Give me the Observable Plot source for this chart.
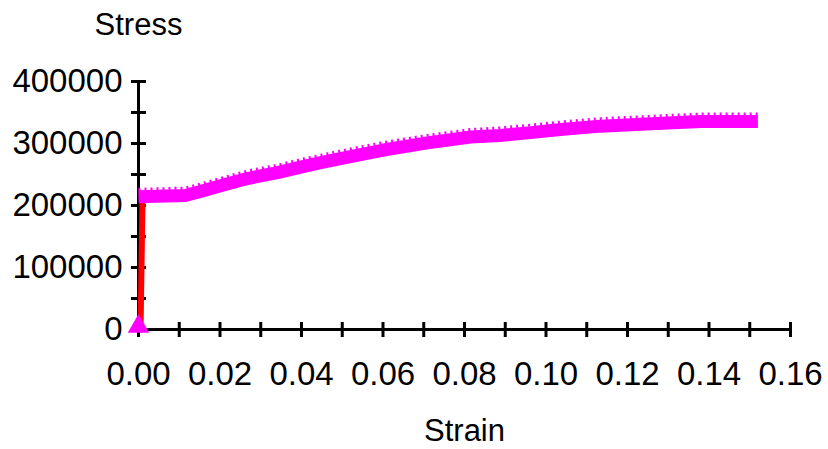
<!DOCTYPE html>
<html>
<head>
<meta charset="utf-8">
<script src="https://cdn.jsdelivr.net/npm/d3@7"></script>
<script src="https://cdn.jsdelivr.net/npm/@observablehq/plot@0.6"></script>
<style>
  html, body { margin: 0; padding: 0; background: #fff; }
</style>
</head>
<body>
<div id="chart"></div>
<script>
// Plastic curve (magenta markers)
const strain = [0, 0.0115, 0.0152, 0.0206, 0.0267, 0.0341, 0.0398, 0.0447, 0.052, 0.0601, 0.0709, 0.0815, 0.0888, 0.0962, 0.1036, 0.1134, 0.1232, 0.138, 0.152];
const stress = [214000, 216000, 222500, 232500, 243500, 253000, 262000, 269000, 279000, 289500, 301000, 310500, 313000, 317500, 322500, 328000, 331000, 335500, 335500];
// Elastic line (red)
const elasticStrain = [0.0005, 0.001];
const elasticStress = [0, 215000];
// Axis ticks and labels
const xTicks = d3.range(0, 17).map(i => i / 100);
const xLabels = [0, 0.02, 0.04, 0.06, 0.08, 0.10, 0.12, 0.14, 0.16];
const yTicks = d3.range(0, 9).map(i => i * 50000);
const yLabels = [0, 100000, 200000, 300000, 400000];
const xTitle = "Strain";
const yTitle = "Stress";

const curve = strain.map((s, i) => ({strain: s, stress: stress[i]}));
const elastic = elasticStrain.map((s, i) => ({strain: s, stress: elasticStress[i]}));

const hTick = { draw(ctx) { ctx.moveTo(-7.5, 0); ctx.lineTo(7.5, 0); } };
const vTick = { draw(ctx) { ctx.moveTo(0, -7.5); ctx.lineTo(0, 7.5); } };

const chart = Plot.plot({
  width: 828,
  height: 449,
  marginLeft: 138,
  marginRight: 38,
  marginTop: 81,
  marginBottom: 120,
  style: { fontFamily: "Liberation Sans, Arial, sans-serif", color: "black", background: "white" },
  x: { domain: [0, 0.16] },
  y: { domain: [0, 400000] },
  marks: [
    Plot.ruleX([0], { y1: 0, y2: 400000, stroke: "black", strokeWidth: 3 }),
    Plot.ruleY([0], { x1: 0, x2: 0.16, stroke: "black", strokeWidth: 3 }),
    Plot.dot(yTicks, { x: () => 0, y: d => d, symbol: hTick, stroke: "black", strokeWidth: 3, fill: "none" }),
    Plot.dot(xTicks, { x: d => d, y: () => 0, symbol: vTick, stroke: "black", strokeWidth: 3, fill: "none" }),
    Plot.axisY({ ticks: yLabels, tickSize: 0, tickPadding: 16, fontSize: 33, label: null, tickFormat: d => String(d) }),
    Plot.axisX({ ticks: xLabels, tickSize: 0, tickPadding: 32, fontSize: 33, label: null, tickFormat: d3.format(".2f") }),
    Plot.line(elastic, { x: "strain", y: "stress", stroke: "#ff0000", strokeWidth: 6 }),
    Plot.line(curve, { x: "strain", y: "stress", stroke: "#ff00ff", strokeWidth: 13, strokeLinecap: "butt", strokeLinejoin: "miter", curve: "linear" }),
    Plot.line(curve, { x: "strain", y: "stress", dy: -7.5, stroke: "#ff00ff", strokeWidth: 3, strokeDasharray: "2,4", strokeLinecap: "butt" }),
    Plot.dot([{strain: 0, stress: 0}], { x: "strain", y: "stress", symbol: "triangle", r: 8, dy: -3, fill: "#ff00ff", stroke: "none" }),
    Plot.text([yTitle], { frameAnchor: "top-left", dy: -69, text: d => d, fontSize: 31, textAnchor: "middle", fill: "black" }),
    Plot.text([xTitle], { frameAnchor: "bottom", dy: 111, text: d => d, fontSize: 31, textAnchor: "middle", fill: "black" })
  ]
});
document.getElementById("chart").appendChild(chart);
</script>
</body>
</html>
